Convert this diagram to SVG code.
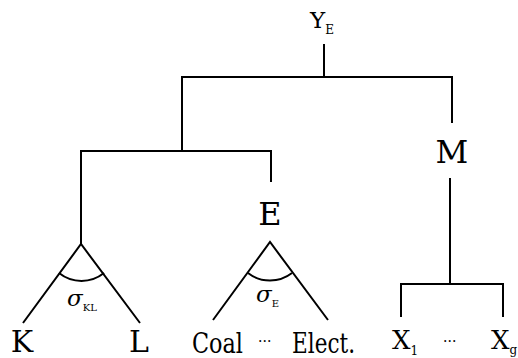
<svg xmlns="http://www.w3.org/2000/svg" width="518" height="358" viewBox="0 0 518 358">
<style>
  .ln { fill: none; stroke: #000; stroke-width: 2; }
  text { font-family: "DejaVu Serif", "Liberation Serif", serif; fill: #000; }
  .big { font-size: 32px; }
  .leaf { font-size: 30px; }
  .sub { font-size: 12px; }
  .sig { font-size: 23px; font-style: italic; }
  .ss { font-size: 10px; font-style: normal; }
  .dots { font-size: 14px; }
</style>
<rect width="518" height="358" fill="#fff"/>
<g id="connectors">
  <path class="ln" d="M324 44 V77 M182 77 H452 M182 76 V151 M452 76 V123"/>
  <path class="ln" d="M81 151 H271 M81 150 V244 M271 150 V182"/>
  <path class="ln" d="M23 323 L81 244 L140 323"/>
  <path class="ln" d="M59 273 A36 36 0 0 0 104 273"/>
  <path class="ln" d="M213 320 L270 242 L328 320"/>
  <path class="ln" d="M248 273 A36 36 0 0 0 292 273"/>
  <path class="ln" d="M450 178 V284 M401 284 H503 M401 283 V317 M503 283 V317"/>
</g>
<g id="node-YE"><text x="310" y="28" font-size="23">Y<tspan class="sub" dy="6">E</tspan></text></g>
<g id="node-M"><text class="big" x="452" y="163" text-anchor="middle">M</text></g>
<g id="node-E"><text class="big" x="270" y="225" text-anchor="middle">E</text></g>
<g id="label-sigmaKL"><text class="sig" x="67" y="306">σ<tspan class="ss" dy="5">KL</tspan></text></g>
<g id="label-sigmaE"><text class="sig" x="256" y="302">σ<tspan class="ss" dy="5">E</tspan></text></g>
<g id="node-K"><text class="leaf" x="22" y="352" text-anchor="middle">K</text></g>
<g id="node-L"><text class="leaf" x="139" y="352" text-anchor="middle">L</text></g>
<g id="node-Coal"><text x="192" y="353" font-size="27" textLength="51" lengthAdjust="spacingAndGlyphs">Coal</text></g>
<g id="dots-E"><text class="dots" x="258" y="346">···</text></g>
<g id="node-Elect"><text x="292" y="353" font-size="27" textLength="63" lengthAdjust="spacingAndGlyphs">Elect.</text></g>
<g id="node-X1"><text x="392" y="349" font-size="26">X<tspan class="sub" dy="6">1</tspan></text></g>
<g id="dots-X"><text class="dots" x="443" y="346">···</text></g>
<g id="node-Xg"><text x="491" y="349" font-size="26">X<tspan class="sub" dy="5">g</tspan></text></g>
</svg>
